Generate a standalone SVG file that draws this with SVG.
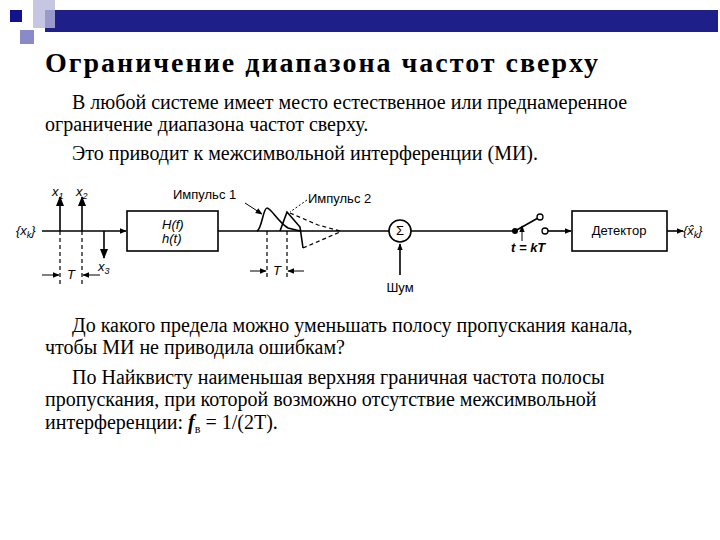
<svg xmlns="http://www.w3.org/2000/svg" width="720" height="540" viewBox="0 0 720 540">
<defs>
<marker id="a" viewBox="0 0 10 10" refX="9" refY="5" markerWidth="7" markerHeight="7" orient="auto-start-reverse" markerUnits="userSpaceOnUse"><path d="M0,1 L10,5 L0,9 z" fill="#000"/></marker>
<marker id="b" viewBox="0 0 10 10" refX="9" refY="5" markerWidth="10" markerHeight="10" orient="auto" markerUnits="userSpaceOnUse"><path d="M0,1 L10,5 L0,9 z" fill="#000"/></marker>
</defs>
<style>
.t{font-family:"Liberation Serif","Times New Roman",serif;font-size:20px;fill:#000}
.s{font-family:"Liberation Sans",Arial,sans-serif;font-size:13px;fill:#000}
.i{font-style:italic}
.l{stroke:#000;stroke-width:1.6;fill:none}
.d{stroke:#000;stroke-width:1.2;fill:none;stroke-dasharray:4 3}
.bx{fill:#fff;stroke:#000;stroke-width:1.6}
.h{font-family:"Liberation Serif","Times New Roman",serif;font-size:28px;font-weight:bold;letter-spacing:2px;fill:#000}
</style>
<rect width="720" height="540" fill="#fff"/>
<rect x="45" y="10" width="673" height="22" fill="#1f1f8a"/>
<rect x="33" y="0" width="22" height="28" fill="#b8b8dc" opacity="0.8"/>
<rect x="10" y="10" width="12" height="12" fill="#12128a"/>
<rect x="20" y="30" width="14" height="14" fill="#8a8ac8"/>
<text class="h" x="45" y="72">Ограничение диапазона частот сверху</text>
<text class="t" x="72" y="109">В любой системе имеет место естественное или преднамеренное</text>
<text class="t" x="45" y="131">ограничение диапазона частот сверху.</text>
<text class="t" x="72" y="160">Это приводит к межсимвольной интерференции (МИ).</text>
<text class="t" x="72" y="332">До какого предела можно уменьшать полосу пропускания канала,</text>
<text class="t" x="45" y="354">чтобы МИ не приводила ошибкам?</text>
<text class="t" x="72" y="384">По Найквисту наименьшая верхняя граничная частота полосы</text>
<text class="t" x="45" y="406">пропускания, при которой возможно отсутствие межсимвольной</text>
<text class="t" x="45" y="429">интерференции: <tspan class="i" font-weight="bold">f</tspan><tspan font-size="12" dy="4">в</tspan><tspan dy="-4"> = 1/(2T).</tspan></text>
<g id="connectors">
<line class="l" x1="42" y1="231" x2="126" y2="231" marker-end="url(#a)"/>
<line class="l" x1="218" y1="231" x2="389" y2="231"/>
<line class="l" x1="411" y1="231" x2="515" y2="231"/>
<line class="l" x1="515" y1="231" x2="538" y2="218"/>
<line class="l" x1="548" y1="231" x2="571" y2="231" marker-end="url(#a)"/>
<line class="l" x1="667" y1="231" x2="683" y2="231" marker-end="url(#a)"/>
<line class="l" x1="400" y1="275" x2="400" y2="244" marker-end="url(#a)"/>
<line stroke="#000" stroke-width="1" x1="522" y1="241" x2="522" y2="226" marker-end="url(#a)"/>
</g>
<g id="pulses">
<line class="l" x1="60" y1="231" x2="60" y2="197" stroke-width="2.5" marker-end="url(#b)"/>
<line class="l" x1="82" y1="231" x2="82" y2="197" stroke-width="2.5" marker-end="url(#b)"/>
<line class="l" x1="104" y1="231" x2="104" y2="258" stroke-width="2.5" marker-end="url(#b)"/>
<line class="d" x1="60" y1="231" x2="60" y2="286"/>
<line class="d" x1="82" y1="231" x2="82" y2="286"/>
<line stroke="#000" stroke-width="1" x1="42" y1="275" x2="59" y2="275" marker-end="url(#a)"/>
<line stroke="#000" stroke-width="1" x1="100" y1="275" x2="83" y2="275" marker-end="url(#a)"/>
<text class="s i" x="52" y="196">x<tspan font-size="9" dy="3">1</tspan></text>
<text class="s i" x="76" y="196">x<tspan font-size="9" dy="3">2</tspan></text>
<text class="s i" x="98" y="271">x<tspan font-size="9" dy="3">3</tspan></text>
<text class="s i" x="67" y="279">T</text>
<text class="s i" x="16" y="235">{x<tspan font-size="9" dy="3">k</tspan><tspan dy="-3">}</tspan></text>
<path class="l" stroke-width="2" d="M257,231 C262,229 263,208 267,208 C271,208 278,222 288,228 L300,231"/>
<path class="l" stroke-width="2" d="M280,231 L287,212 L300,227 L303,248"/>
<path class="d" stroke-width="2" d="M303,248 L340,232 M290,213 L318,225 L340,231"/>
<line class="d" x1="267" y1="231" x2="267" y2="279"/>
<line class="d" x1="287" y1="231" x2="287" y2="279"/>
<line stroke="#000" stroke-width="1" x1="250" y1="271" x2="266" y2="271" marker-end="url(#a)"/>
<line stroke="#000" stroke-width="1" x1="304" y1="271" x2="288" y2="271" marker-end="url(#a)"/>
<text class="s i" x="273" y="275">T</text>
<text class="s" x="173" y="199">Импульс 1</text>
<line stroke="#000" stroke-width="1" x1="245" y1="203" x2="262" y2="214" marker-end="url(#a)"/>
<text class="s" x="308" y="203">Импульс 2</text>
<line stroke="#000" stroke-width="1" stroke-dasharray="2 2" x1="307" y1="200" x2="290" y2="212"/>
</g>
<g id="filter"><rect class="bx" x="127" y="211" width="91" height="40"/>
<text class="s i" x="162" y="229">H(f)</text><text class="s i" x="162" y="243">h(t)</text></g>
<g id="sum"><circle class="bx" cx="400" cy="231" r="11"/><text class="s" x="400" y="235" text-anchor="middle">Σ</text>
<text class="s" x="400" y="292" text-anchor="middle">Шум</text></g>
<g id="switch"><circle cx="515" cy="231" r="3" fill="#000"/><circle cx="540" cy="217" r="3" fill="#fff" stroke="#000" stroke-width="1.3"/><circle cx="545" cy="231" r="3" fill="#fff" stroke="#000" stroke-width="1.3"/>
<text class="s i" x="511" y="252" font-weight="bold">t = kT</text></g>
<g id="detector"><rect class="bx" x="572" y="211" width="95" height="40"/><text class="s" x="619" y="235" text-anchor="middle">Детектор</text>
<text class="s i" x="683" y="235">{x̂<tspan font-size="9" dy="3">k</tspan><tspan dy="-3">}</tspan></text></g>
</svg>
